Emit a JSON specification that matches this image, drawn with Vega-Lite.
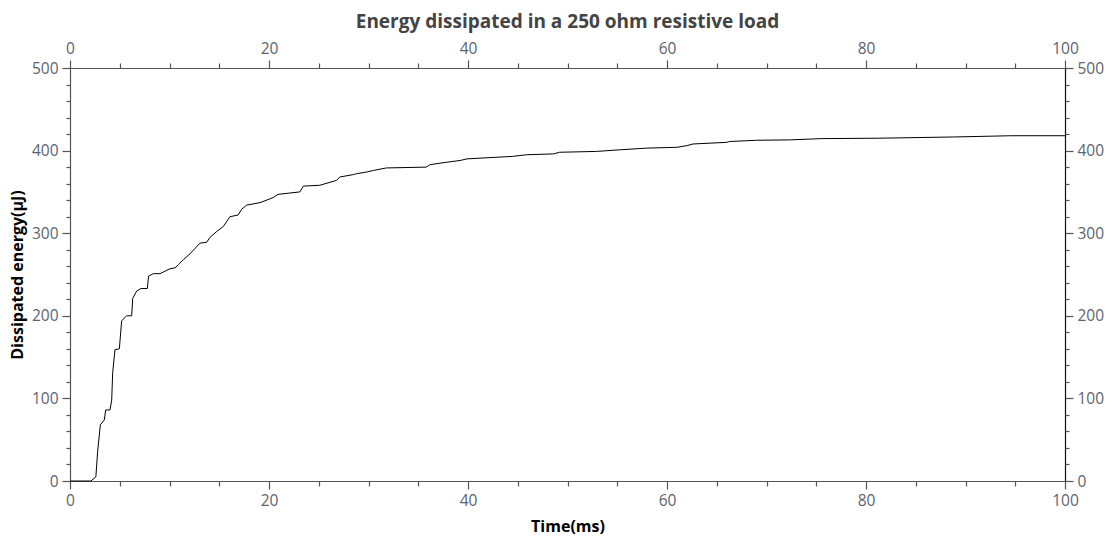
{
  "$schema": "https://vega.github.io/schema/vega-lite/v6.json",
  "width": 995,
  "height": 413,
  "autosize": {"type": "none"},
  "padding": {"left": 70, "top": 68, "right": 51, "bottom": 60},
  "background": "white",
  "config": {
    "font": "Open Sans",
    "view": {"stroke": null},
    "axis": {"grid": false, "labelFlush": false, "labelOverlap": false, "domainColor": "#555", "tickColor": "#555", "labelColor": "#5b6470", "labelFontSize": 15.5, "labelFont": "Open Sans", "titleFont": "Open Sans", "titleFontSize": 16, "titleFontWeight": "bold", "titleColor": "#000", "domainWidth": 1.2, "tickWidth": 1.2}
  },
  "title": {"text": "Energy dissipated in a 250 ohm resistive load", "fontSize": 19, "fontWeight": "bold", "color": "#444", "font": "Open Sans", "anchor": "middle", "offset": 9},
  "data": {"values": [
    {"t": 0, "e": 0}, {"t": 2.1, "e": 0}, {"t": 2.6, "e": 5}, {"t": 2.78, "e": 36}, {"t": 3.05, "e": 68},
    {"t": 3.45, "e": 74}, {"t": 3.59, "e": 86}, {"t": 4.02, "e": 86}, {"t": 4.19, "e": 98}, {"t": 4.29, "e": 131},
    {"t": 4.52, "e": 159}, {"t": 4.96, "e": 160}, {"t": 5.19, "e": 194}, {"t": 5.7, "e": 200}, {"t": 6.2, "e": 200},
    {"t": 6.3, "e": 221}, {"t": 6.7, "e": 230}, {"t": 7.14, "e": 233}, {"t": 7.77, "e": 233}, {"t": 7.9, "e": 248},
    {"t": 8.37, "e": 251}, {"t": 9.05, "e": 251}, {"t": 10.05, "e": 257}, {"t": 10.55, "e": 258}, {"t": 10.9, "e": 262},
    {"t": 11.4, "e": 268}, {"t": 12.06, "e": 275}, {"t": 13.07, "e": 288}, {"t": 13.74, "e": 289}, {"t": 14.07, "e": 295},
    {"t": 14.74, "e": 302}, {"t": 15.4, "e": 308}, {"t": 16.08, "e": 320}, {"t": 16.9, "e": 322}, {"t": 17.25, "e": 329},
    {"t": 17.76, "e": 334}, {"t": 19.1, "e": 337}, {"t": 20.4, "e": 343}, {"t": 20.9, "e": 347}, {"t": 23.1, "e": 350},
    {"t": 23.45, "e": 357}, {"t": 25.1, "e": 358}, {"t": 26.8, "e": 364}, {"t": 27.1, "e": 368}, {"t": 28.5, "e": 371},
    {"t": 28.8, "e": 372}, {"t": 29.8, "e": 374}, {"t": 30.5, "e": 376}, {"t": 31.8, "e": 379}, {"t": 35.8, "e": 380},
    {"t": 36.2, "e": 383}, {"t": 37.9, "e": 386}, {"t": 39.2, "e": 388}, {"t": 39.9, "e": 390}, {"t": 44.5, "e": 393},
    {"t": 45.9, "e": 395}, {"t": 48.6, "e": 396}, {"t": 49.2, "e": 398}, {"t": 52.9, "e": 399}, {"t": 55.3, "e": 401},
    {"t": 58, "e": 403}, {"t": 61, "e": 404}, {"t": 62, "e": 406}, {"t": 62.6, "e": 408}, {"t": 66, "e": 410},
    {"t": 66.3, "e": 411}, {"t": 69, "e": 412.5}, {"t": 72.4, "e": 413}, {"t": 75.5, "e": 414.5}, {"t": 81.2, "e": 415},
    {"t": 88.8, "e": 416.5}, {"t": 94.6, "e": 418}, {"t": 100, "e": 418}
  ]},
  "layer": [
    {
      "mark": {"type": "line", "color": "#000", "strokeWidth": 1, "interpolate": "linear"},
      "encoding": {
        "x": {"field": "t", "type": "quantitative", "scale": {"domain": [0, 100], "nice": false, "zero": false},
              "axis": {"orient": "bottom", "title": "Time(ms)", "values": [0, 20, 40, 60, 80, 100], "tickSize": 8, "labelPadding": 4, "titlePadding": 10}},
        "y": {"field": "e", "type": "quantitative", "scale": {"domain": [0, 500], "nice": false, "zero": false},
              "axis": {"orient": "left", "title": "Dissipated energy(μJ)", "values": [0, 100, 200, 300, 400, 500], "tickSize": 8, "labelPadding": 4, "titlePadding": 6}}
      }
    },
    {
      "mark": {"type": "line", "opacity": 0},
      "encoding": {
        "x": {"field": "t", "type": "quantitative", "axis": {"orient": "bottom", "title": null, "labels": false, "domain": false, "values": [5, 10, 15, 25, 30, 35, 45, 50, 55, 65, 70, 75, 85, 90, 95], "tickSize": 5}},
        "y": {"field": "e", "type": "quantitative", "axis": {"orient": "left", "title": null, "labels": false, "domain": false, "values": [20, 40, 60, 80, 120, 140, 160, 180, 220, 240, 260, 280, 320, 340, 360, 380, 420, 440, 460, 480], "tickSize": 4}}
      }
    },
    {
      "mark": {"type": "line", "opacity": 0},
      "encoding": {
        "x": {"field": "t", "type": "quantitative", "axis": {"orient": "top", "title": null, "values": [0, 20, 40, 60, 80, 100], "tickSize": 8, "labelPadding": 4}},
        "y": {"field": "e", "type": "quantitative", "axis": {"orient": "right", "title": null, "values": [0, 100, 200, 300, 400, 500], "tickSize": 8, "labelPadding": 4, "domainColor": "#111"}}
      }
    },
    {
      "mark": {"type": "line", "opacity": 0},
      "encoding": {
        "x": {"field": "t", "type": "quantitative", "axis": {"orient": "top", "title": null, "labels": false, "domain": false, "values": [5, 10, 15, 25, 30, 35, 45, 50, 55, 65, 70, 75, 85, 90, 95], "tickSize": 5}},
        "y": {"field": "e", "type": "quantitative", "axis": {"orient": "right", "title": null, "labels": false, "domain": false, "values": [20, 40, 60, 80, 120, 140, 160, 180, 220, 240, 260, 280, 320, 340, 360, 380, 420, 440, 460, 480], "tickSize": 4}}
      }
    }
  ],
  "resolve": {"axis": {"x": "independent", "y": "independent"}}
}
